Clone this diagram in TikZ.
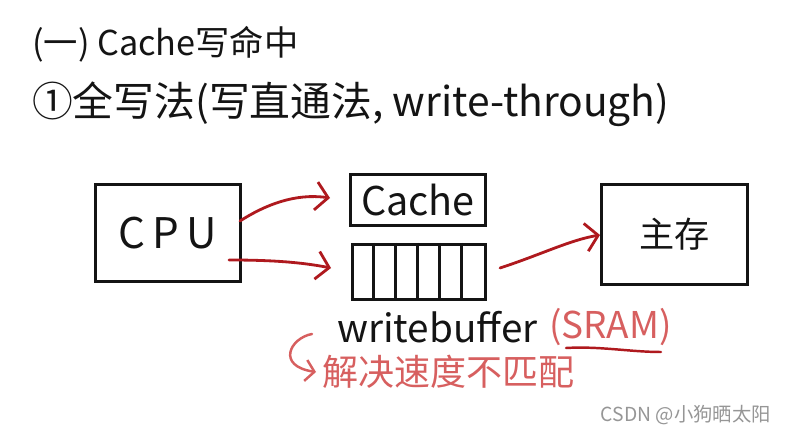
\documentclass[tikz,border=0pt]{standalone}
\usepackage{fontspec}
\newfontfamily\cjk{Noto Sans CJK SC}
\usetikzlibrary{arrows.meta}
\definecolor{ink}{RGB}{20,20,20}
\definecolor{darkred}{RGB}{175,25,30}
\definecolor{softred}{RGB}{215,95,95}
\definecolor{wmgray}{RGB}{150,150,150}
\tikzset{
  box/.style={draw=ink, line width=1.6pt, inner sep=0pt},
  hand/.style={font=\cjk, text=ink},
  redarrow/.style={draw=darkred, line width=1.6pt, line cap=round,
    -{Straight Barb[length=7pt,width=16pt,line width=1.6pt]}},
  redtext/.style={font=\cjk, text=softred},
}
\begin{document}
\begin{tikzpicture}[x=0.02cm,y=-0.02cm]
\useasboundingbox (0,0) rectangle (790,438);
\fill[white] (0,0) rectangle (790,438);

% titles
\node[hand, anchor=west, font=\cjk\fontsize{19.5}{24}\selectfont] (title) at (26,44) {(一) Cache写命中};
\node[hand, anchor=west, font=\cjk\fontsize{23.2}{28}\selectfont] (sub) at (26,104) {①全写法(写直通法, write-through)};

% boxes
\node[box, minimum width=145*0.02cm, minimum height=97*0.02cm, anchor=north west] (cpu) at (94,183) {};
\node[hand, font=\cjk\fontsize{24}{28}\selectfont] (cputext) at (cpu.center) {C\,P\,U};

\node[box, minimum width=135*0.02cm, minimum height=51*0.02cm, anchor=north west] (cache) at (349,173) {};
\node[hand, font=\cjk\fontsize{22.5}{28}\selectfont] (cachetext) at (cache.center) {Cache};

\node[box, minimum width=133*0.02cm, minimum height=55*0.02cm, anchor=north west] (buf) at (351,243) {};
\foreach \i in {1,...,5} {
  \draw[draw=ink, line width=1.6pt] (351+\i*22.17,243) -- (351+\i*22.17,298);
}

\node[box, minimum width=146*0.02cm, minimum height=100*0.02cm, anchor=north west] (mem) at (600,183) {};
\node[hand, font=\cjk\fontsize{20}{24}\selectfont] (memtext) at (mem.center) {主存};

% connectors
\coordinate (a1s) at (240,221);
\coordinate (a1e) at (330,198);
\draw[redarrow] (a1s) .. controls (265,205) and (295,193) .. (a1e);
\coordinate (a2s) at (229,260);
\coordinate (a2e) at (331,268);
\draw[redarrow] (a2s) .. controls (270,260) and (300,262) .. (a2e);
\coordinate (a3s) at (500,268);
\coordinate (a3e) at (600,235);
\draw[redarrow] (a3s) .. controls (540,255) and (570,240) .. (a3e);

% labels under buffer
\node[hand, anchor=west, font=\cjk\fontsize{22}{26}\selectfont] (wb) at (331,327) {writebuffer};
\node[redtext, anchor=west, font=\cjk\fontsize{21}{26}\selectfont] (sram) at (543,327) {(SRAM)};
\coordinate (ul1) at (566,348);
\coordinate (ul2) at (661,352);
\draw[darkred, line width=1.4pt, line cap=round] (ul1) .. controls (600,346) and (630,352) .. (ul2);

\coordinate (hk1) at (312,334);
\coordinate (hk2) at (316,372);
\draw[draw=softred, line width=1.4pt, line cap=round,
  -{Straight Barb[length=5pt,width=12pt,line width=1.4pt]}]
  (hk1) .. controls (290,338) and (276,366) .. (hk2);
\node[redtext, anchor=west, font=\cjk\fontsize{20.5}{26}\selectfont] (solve) at (316,372) {解决速度不匹配};

% watermark
\node[anchor=east, text=wmgray, font=\cjk\fontsize{11}{13}\selectfont] (wm) at (777,415) {CSDN @小狗晒太阳};
\end{tikzpicture}
\end{document}
